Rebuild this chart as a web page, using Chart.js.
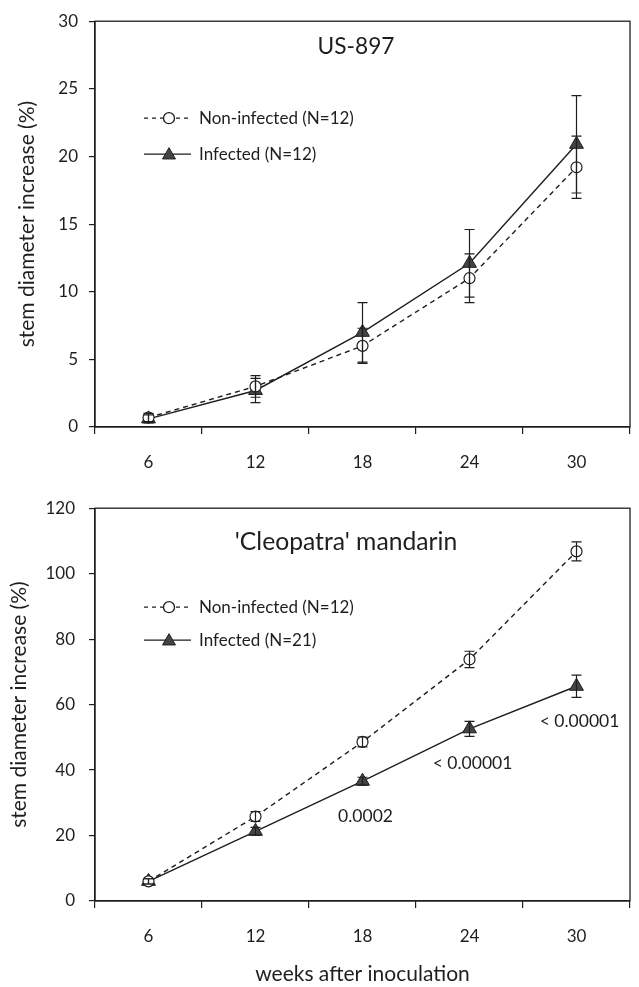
<!DOCTYPE html>
<html>
<head>
<meta charset="utf-8">
<title>Stem diameter increase</title>
<script src="https://cdn.jsdelivr.net/npm/chart.js@4.4.0/dist/chart.umd.min.js"></script>
<style>
    html, body { margin: 0; padding: 0; background: #fff; }
    #wrap { position: relative; width: 639px; height: 987px; }
    canvas { position: absolute; left: 0; }
    #top-chart { top: 0; }
    #bottom-chart { top: 484px; }
</style>
</head>
<body>
<div id="wrap">
    <canvas id="top-chart" width="639" height="484"></canvas>
    <canvas id="bottom-chart" width="639" height="503"></canvas>
</div>
<script>
// weeks after inoculation
const weeks = ['6', '12', '18', '24', '30'];

// US-897 rootstock
const usNonInfected = [0.7, 3.0, 6.0, 11.0, 19.2];
const usNonInfectedErr = [0.3, 0.8, 1.3, 1.8, 2.3];
const usInfected = [0.6, 2.7, 7.0, 12.1, 20.9];
const usInfectedErr = [0.3, 0.9, 2.2, 2.5, 3.6];
const usTicks = [0, 5, 10, 15, 20, 25, 30];

// 'Cleopatra' mandarin
const cleoNonInfected = [6.0, 25.8, 48.6, 73.8, 106.8];
const cleoNonInfectedErr = [0.8, 1.5, 1.5, 2.5, 2.9];
const cleoInfected = [6.0, 21.3, 36.6, 52.6, 65.6];
const cleoInfectedErr = [0.8, 1.2, 1.2, 2.3, 3.4];
const cleoPValues = ['', '', '0.0002', '< 0.00001', '< 0.00001'];
const cleoTicks = [0, 20, 40, 60, 80, 100, 120];

const FONT = 'Lato, "Open Sans", sans-serif';
const INK = '#1e1e1e';

function drawTriangle(ctx, x, y, r) {
    ctx.beginPath();
    ctx.moveTo(x, y - r);
    ctx.lineTo(x + r * 0.866, y + r / 2);
    ctx.lineTo(x - r * 0.866, y + r / 2);
    ctx.closePath();
    ctx.fillStyle = '#444';
    ctx.fill();
    ctx.strokeStyle = INK;
    ctx.lineWidth = 1;
    ctx.stroke();
}

// box round the plot area
const frame = {
    id: 'frame',
    afterDraw(chart) {
        const a = chart.chartArea;
        const ctx = chart.ctx;
        ctx.save();
        ctx.strokeStyle = INK;
        ctx.lineWidth = 1.3;
        ctx.strokeRect(a.left, a.top, a.right - a.left, a.bottom - a.top);
        ctx.restore();
    }
};

const errorBars = {
    id: 'errorBars',
    afterDatasetsDraw(chart) {
        const ctx = chart.ctx;
        const y = chart.scales.y;
        ctx.save();
        ctx.strokeStyle = INK;
        ctx.lineWidth = 1.2;
        chart.data.datasets.forEach((ds, i) => {
            let meta = chart.getDatasetMeta(i);
            meta.data.forEach((pt, j) => {
                let e = ds.errors[j];
                let yt = y.getPixelForValue(ds.data[j] + e);
                let yb = y.getPixelForValue(ds.data[j] - e);
                ctx.beginPath();
                ctx.moveTo(pt.x, yt);
                ctx.lineTo(pt.x, yb);
                ctx.moveTo(pt.x - 5, yt);
                ctx.lineTo(pt.x + 5, yt);
                ctx.moveTo(pt.x - 5, yb);
                ctx.lineTo(pt.x + 5, yb);
                ctx.stroke();
            });
        });
        ctx.restore();
    }
};

// panel title, in-plot legend and p-values
const panelText = {
    id: 'panelText',
    afterDraw(chart, args, opts) {
        const ctx = chart.ctx;
        const a = chart.chartArea;
        ctx.save();
        ctx.fillStyle = INK;
        ctx.textBaseline = 'middle';
        ctx.textAlign = 'center';
        // title sized to the width it takes in the figure
        ctx.font = '20px ' + FONT;
        let size = 20 * opts.titleWidth / ctx.measureText(opts.title).width;
        ctx.font = size.toFixed(1) + 'px ' + FONT;
        ctx.fillText(opts.title, a.left + opts.titleX, a.top + opts.titleY);

        // legend
        ctx.font = '17px ' + FONT;
        ctx.textAlign = 'left';
        let x0 = a.left + 49, x1 = a.left + 96, xm = a.left + 74;
        opts.legend.forEach((item, k) => {
            let yy = a.top + opts.legendY[k];
            ctx.strokeStyle = INK;
            ctx.lineWidth = 1.3;
            ctx.setLineDash(item.dashed ? [4, 4] : []);
            ctx.beginPath();
            ctx.moveTo(x0, yy);
            ctx.lineTo(x1, yy);
            ctx.stroke();
            ctx.setLineDash([]);
            if (item.marker === 'circle') {
                ctx.beginPath();
                ctx.arc(xm, yy, 5.5, 0, Math.PI * 2);
                ctx.fillStyle = '#fff';
                ctx.fill();
                ctx.stroke();
            } else {
                drawTriangle(ctx, xm, yy + 1, 7.5);
            }
            ctx.fillStyle = INK;
            ctx.fillText(item.text, a.left + 104, yy);
        });

        // p-values under the infected points
        if (opts.pValues) {
            let meta = chart.getDatasetMeta(1);
            ctx.textAlign = 'center';
            ctx.font = '17.5px ' + FONT;
            opts.pValues.forEach((p, j) => {
                if (!p) return;
                let pt = meta.data[j];
                ctx.fillText(p, pt.x + 3, pt.y + 35);
            });
        }
        ctx.restore();
    }
};

function makeChart(id, cfg) {
    const tickFont = { family: FONT, size: 17 };
    const titleFont = { family: FONT, size: 21 };
    return new Chart(document.getElementById(id), {
        type: 'line',
        data: {
            labels: weeks,
            datasets: [{
                label: 'Non-infected',
                data: cfg.nonInf,
                errors: cfg.nonInfErr,
                borderColor: INK,
                borderWidth: 1.4,
                borderDash: [5, 4],
                pointStyle: 'circle',
                pointRadius: 5.5,
                pointBackgroundColor: '#fff',
                pointBorderColor: INK,
                pointBorderWidth: 1.2,
                fill: false,
                tension: 0
            }, {
                label: 'Infected',
                data: cfg.inf,
                errors: cfg.infErr,
                borderColor: INK,
                borderWidth: 1.4,
                pointStyle: 'triangle',
                pointRadius: 8,
                pointBackgroundColor: '#444',
                pointBorderColor: INK,
                pointBorderWidth: 1,
                fill: false,
                tension: 0
            }]
        },
        options: {
            responsive: false,
            animation: false,
            devicePixelRatio: 1,
            layout: { padding: { top: cfg.padTop, right: 1, left: 0, bottom: 0 } },
            scales: {
                x: {
                    type: 'category',
                    offset: true,
                    grid: { offset: true, drawOnChartArea: false, tickLength: 7, color: INK, lineWidth: 1.2 },
                    border: { color: INK, width: 1.3 },
                    ticks: { font: tickFont, color: INK, padding: 18, maxRotation: 0 },
                    title: {
                        display: !!cfg.xTitle,
                        text: cfg.xTitle || '',
                        font: titleFont,
                        color: INK,
                        padding: { top: 0, bottom: 0 }
                    },
                    afterFit(s) { s.height = cfg.xHeight; }
                },
                y: {
                    min: cfg.ticks[0],
                    max: cfg.ticks[cfg.ticks.length - 1],
                    afterBuildTicks(s) { s.ticks = cfg.ticks.map(v => ({ value: v })); },
                    grid: { drawOnChartArea: false, tickLength: 6, color: INK, lineWidth: 1.2 },
                    border: { color: INK, width: 1.3 },
                    ticks: { font: tickFont, color: INK, padding: cfg.yPad },
                    title: {
                        display: true,
                        text: 'stem diameter increase (%)',
                        font: titleFont,
                        color: INK,
                        padding: { top: cfg.yTitlePad, bottom: 0 }
                    },
                    afterFit(s) { s.width = 95; }
                }
            },
            plugins: {
                legend: { display: false },
                tooltip: { enabled: false },
                panelText: {
                    title: cfg.title,
                    titleWidth: cfg.titleWidth,
                    titleX: cfg.titleX,
                    titleY: cfg.titleY,
                    legendY: cfg.legendY,
                    legend: [
                        { text: 'Non-infected (N=12)', dashed: true, marker: 'circle' },
                        { text: cfg.infLegend, dashed: false, marker: 'triangle' }
                    ],
                    pValues: cfg.pValues
                }
            }
        },
        plugins: [frame, errorBars, panelText]
    });
}

makeChart('top-chart', {
    nonInf: usNonInfected, nonInfErr: usNonInfectedErr,
    inf: usInfected, infErr: usInfectedErr,
    ticks: usTicks,
    padTop: 20, xHeight: 57, yPad: 11, yTitlePad: 15,
    title: 'US-897', titleWidth: 77, titleX: 261, titleY: 25,
    legendY: [97, 133],
    infLegend: 'Infected (N=12)'
});

makeChart('bottom-chart', {
    nonInf: cleoNonInfected, nonInfErr: cleoNonInfectedErr,
    inf: cleoInfected, infErr: cleoInfectedErr,
    ticks: cleoTicks,
    padTop: 9, xHeight: 86, yPad: 14, yTitlePad: 7,
    title: "'Cleopatra' mandarin", titleWidth: 223, titleX: 251, titleY: 34,
    legendY: [99, 132],
    infLegend: 'Infected (N=21)',
    pValues: cleoPValues,
    xTitle: 'weeks after inoculation'
});
</script>
</body>
</html>
